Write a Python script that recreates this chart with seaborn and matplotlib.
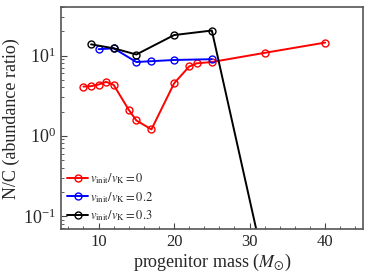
import numpy as np
import pandas as pd
import matplotlib
matplotlib.use('Agg')
import matplotlib.pyplot as plt
import matplotlib.ticker as mticker
import seaborn as sns

# datos
mass_v0 = [8, 9, 10, 11, 12, 14, 15, 17, 20, 22, 23, 25, 32, 40]
nc_v0 = [4.1, 4.15, 4.35, 4.7, 4.3, 2.1, 1.55, 1.2, 4.5, 7.3, 8.0, 8.3, 10.8, 14.5]

mass_v02 = [10, 12, 15, 17, 20, 25]
nc_v02 = [12.0, 12.3, 8.3, 8.5, 8.8, 9.0]

mass_v03 = [9, 12, 15, 20, 25, 32]
nc_v03 = [13.8, 12.3, 10.3, 18.0, 20.5, 0.023]

labels = [r'$v_{\rm init}/v_{\rm K}=0$', r'$v_{\rm init}/v_{\rm K}=0.2$', r'$v_{\rm init}/v_{\rm K}=0.3$']
colors = ['red', 'blue', 'black']

df = pd.concat([
    pd.DataFrame({'mass': mass_v0, 'nc': nc_v0, 'model': labels[0]}),
    pd.DataFrame({'mass': mass_v02, 'nc': nc_v02, 'model': labels[1]}),
    pd.DataFrame({'mass': mass_v03, 'nc': nc_v03, 'model': labels[2]}),
])

sns.set_style('ticks')
plt.rcParams['font.family'] = ['Liberation Serif', 'DejaVu Serif']
plt.rcParams['mathtext.fontset'] = 'stix'

fig = plt.figure(figsize=(3.71, 2.79), dpi=100)
ax = fig.add_axes([0.164, 0.178, 0.814, 0.796])

for lab, col in zip(labels, colors):
    sub = df[df['model'] == lab]
    sns.lineplot(data=sub, x='mass', y='nc', ax=ax, color=col, lw=1.4,
                 marker='o', markersize=5, markerfacecolor='none',
                 markeredgecolor=col, markeredgewidth=1.0, label=lab,
                 sort=False, estimator=None)

ax.set_yscale('log')
ax.set_xlim(5, 45)
ax.set_ylim(0.068, 40)
ax.xaxis.set_major_locator(mticker.MultipleLocator(10))
ax.xaxis.set_minor_locator(mticker.MultipleLocator(2))
ax.tick_params(which='both', direction='in', labelsize=12, color='#444')
ax.tick_params(axis='y', labelsize=13)
ax.tick_params(which='major', length=4)
ax.tick_params(which='minor', length=2)
for s in ax.spines.values():
    s.set_color('#555')
    s.set_linewidth(1.2)
    s.set_visible(True)

ax.set_xlabel(r'progenitor mass ($M_{\odot}$)', fontsize=13, labelpad=1)
ax.set_ylabel('N/C (abundance ratio)', fontsize=13, labelpad=2)

ax.legend(loc='lower left', frameon=False, fontsize=9, handlelength=1.7,
          handletextpad=0.1, labelspacing=0.3, borderaxespad=0.15,
          borderpad=0.35)

fig.savefig('out.png', dpi=100)
